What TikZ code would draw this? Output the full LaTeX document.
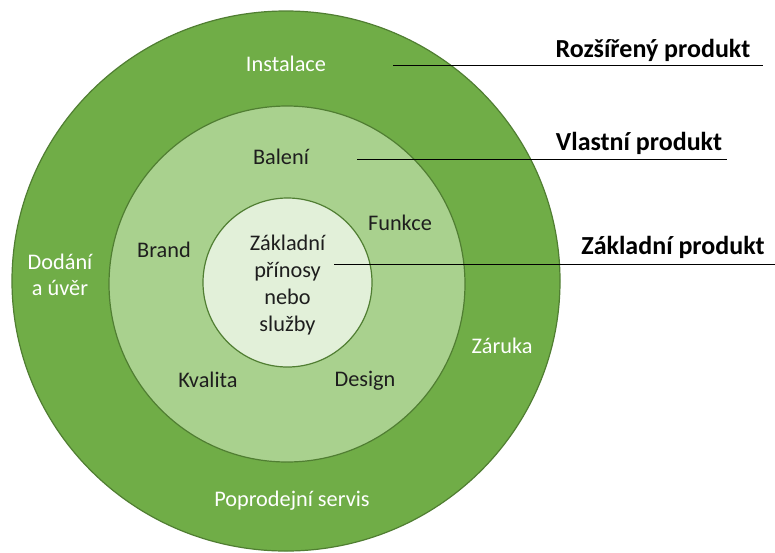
\documentclass[tikz,border=0pt]{standalone}
\usepackage{fontspec}
\setmainfont{Carlito}
\definecolor{ringOuter}{HTML}{70AD47}
\definecolor{ringMid}{HTML}{A9D18E}
\definecolor{ringInner}{HTML}{E2F0D9}
\definecolor{ringEdge}{HTML}{507E32}
\definecolor{txtDark}{HTML}{1E1E1E}
\tikzset{
  ring/.style={draw=ringEdge, line width=1.2pt},
  lbl/.style={font=\fontsize{22.3}{26}\selectfont, inner sep=0pt, align=center},
  wlbl/.style={lbl, text=white},
  dlbl/.style={lbl, text=txtDark},
  blbl/.style={font=\fontsize{26}{30}\selectfont\bfseries, inner sep=0pt, text=black},
  leader/.style={draw=black, line width=0.9pt}
}
\begin{document}
\begin{tikzpicture}[x=1pt,y=-1pt]
\useasboundingbox (0,0) rectangle (775,552);
\fill[white] (0,0) rectangle (775,552);
\draw[ring, fill=ringOuter] (286,281) ellipse [x radius=274, y radius=270];
\draw[ring, fill=ringMid] (287,284) circle [radius=178];
\draw[ring, fill=ringInner] (287.5,282.5) circle [radius=84.5];

\node[wlbl] (inst) at (286,64) {Instalace};
\node[wlbl] (dod) at (60,275) {Dodání\\[0pt]a úvěr};
\node[wlbl] (zar) at (502,346) {Záruka};
\node[wlbl] (serv) at (292,501) {Poprodejní servis};

\node[dlbl] (bal) at (281,157) {Balení};
\node[dlbl] (brand) at (164,250) {Brand};
\node[dlbl] (funk) at (400,223) {Funkce};
\node[dlbl] (kval) at (208,380) {Kvalita};
\node[dlbl] (des) at (365,381) {Design};
\node[dlbl, font=\fontsize{22.3}{27}\selectfont] (core) at (287.5,285) {Základní\\přínosy\\nebo\\služby};

\node[blbl] (trozs) at (653,50) {Rozšířený produkt};
\node[blbl] (tvl) at (639,143) {Vlastní produkt};
\node[blbl] (tzak) at (673,247) {Základní produkt};

\coordinate (r1) at (393,65);
\coordinate (r2) at (763,65);
\coordinate (v1) at (357,159);
\coordinate (v2) at (727,159);
\coordinate (z1) at (334,264);
\coordinate (z2) at (775,264);
\draw[leader] (r1) -- (r2);
\draw[leader] (v1) -- (v2);
\draw[leader] (z1) -- (z2);
\end{tikzpicture}
\end{document}
